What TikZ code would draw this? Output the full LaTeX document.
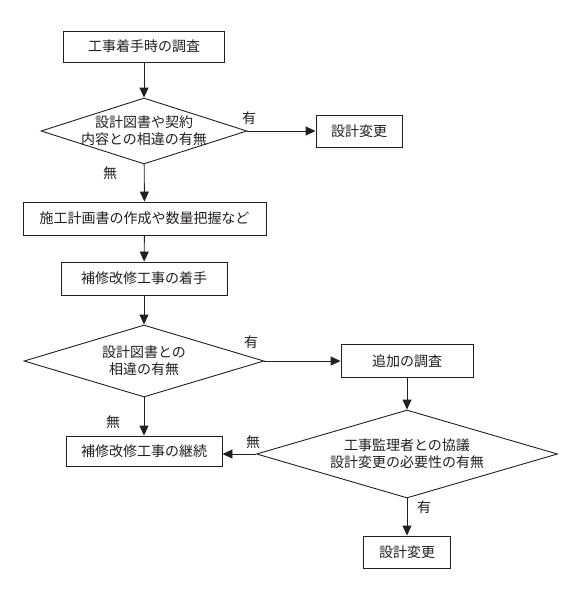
\documentclass[tikz,border=0pt]{standalone}
\usepackage{fontspec}
\setmainfont{Noto Sans CJK JP}
\usetikzlibrary{shapes.geometric,arrows.meta}
\definecolor{ink}{HTML}{231F20}
\begin{document}
\begin{tikzpicture}[x=1pt, y=-1pt, line width=0.9pt,
  >={Triangle[length=10pt,width=9pt]},
  every node/.style = {font=\fontsize{14}{17}\selectfont, text=ink,
    align=center},
  box/.style = {shape=rectangle, draw=ink, inner sep=0pt},
  ask/.style = {shape=diamond, draw=ink, inner sep=-8pt},
  flow/.style = {draw=ink, ->}]
\useasboundingbox (0,0) rectangle (578,592);

  \node[box, minimum width=161pt, minimum height=31pt] (survey) at (144,46.5) {工事着手時の調査};
  \node[ask, aspect=3.1, minimum width=206pt, minimum height=66pt] (diff) at (144,131)
    {設計図書や契約\\内容との相違の有無};
  \node[box, minimum width=86pt, minimum height=32pt] (change) at (359,131) {設計変更};
  \node[box, minimum width=243pt, minimum height=33pt] (plan) at (144.5,218.5)
    {施工計画書の作成や数量把握など};
  \node[box, minimum width=166pt, minimum height=33pt] (start) at (144,278.5) {補修改修工事の着手};
  \node[ask, aspect=3.3, minimum width=240pt, minimum height=72pt] (diff2) at (144,361)
    {設計図書との\\相違の有無};
  \node[box, minimum width=132pt, minimum height=33pt] (extra) at (407,361) {追加の調査};
  \node[ask, aspect=3.4, minimum width=301pt, minimum height=88pt] (talk) at (407,454)
    {工事監理者との協議\\設計変更の必要性の有無};
  \node[box, minimum width=156pt, minimum height=30pt] (cont) at (144,451) {補修改修工事の継続};
  \node[box, minimum width=87pt, minimum height=32pt] (change2) at (407,552) {設計変更};

  % answers
  \node (yes1) at (249,118) {有};
  \node (no1) at (110,173) {無};
  \node (yes2) at (251,342) {有};
  \node (no2) at (113,422) {無};
  \node (no3) at (253,442) {無};
  \node (yes3) at (424,507) {有};

  \draw[flow] (survey) -- (diff);
  \draw[flow] (diff) -- (change);
  \draw[flow] (diff) -- (plan);
  \draw[flow] (plan) -- (start);
  \draw[flow] (start) -- (diff2);
  \draw[flow] (diff2) -- (extra);
  \draw[flow] (diff2) -- (cont);
  \draw[flow] (extra) -- (talk);
  \draw[flow] (talk.west) -- (talk.west -| cont.east);
  \draw[flow] (talk) -- (change2);
\end{tikzpicture}
\end{document}
